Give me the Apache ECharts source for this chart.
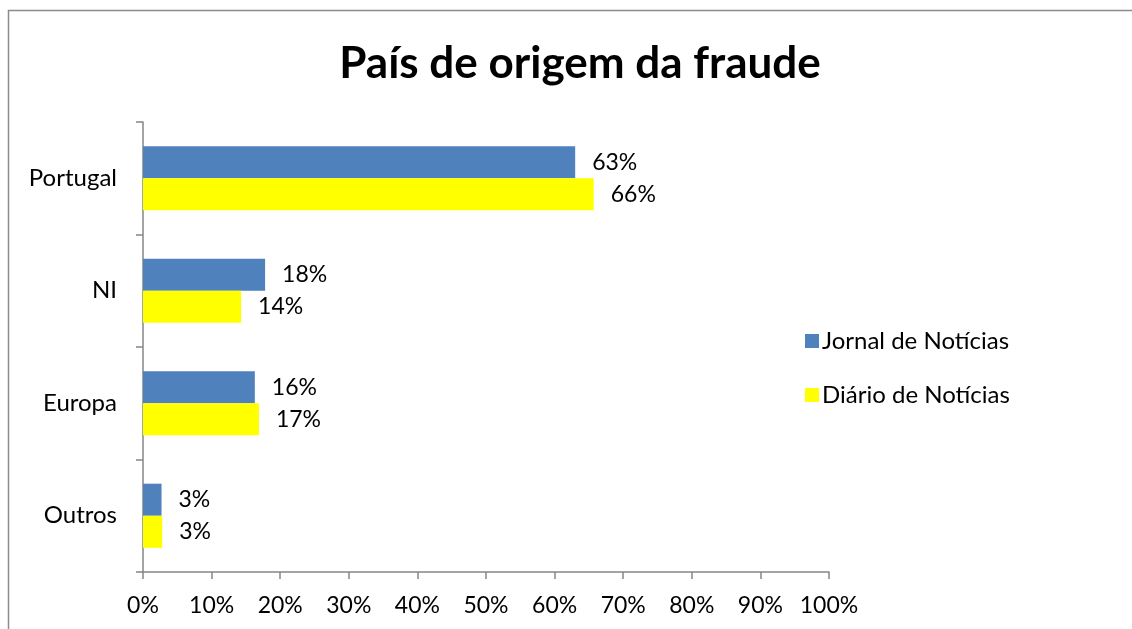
<!DOCTYPE html>
<html>
<head>
<meta charset="utf-8">
<script src="https://cdn.jsdelivr.net/npm/echarts@6/dist/echarts.min.js"></script>
<style>
  html, body { margin: 0; padding: 0; background: #fff; }
  #chart { width: 1132px; height: 629px; }
</style>
</head>
<body>
<div id="chart"></div>
<script>
// data (share of cases)
var categories = ['Portugal', 'NI', 'Europa', 'Outros'];
var jornal = [63, 17.8, 16.3, 2.7];
var diario = [65.7, 14.3, 16.9, 2.8];
var seriesNames = ['Jornal de Notícias', 'Diário de Notícias'];
var ticks = [0, 10, 20, 30, 40, 50, 60, 70, 80, 90, 100];

var font = 'Lato, "Open Sans", sans-serif';
var axisGray = '#868686';

function pctLabel(p) {
    return Math.round(p.value) + '%';
}

var chart = echarts.init(document.getElementById('chart'));
chart.setOption({
    animation: false,
    textStyle: { fontFamily: font },
    title: {
        text: 'País de origem da fraude',
        left: 575,
        top: 37,
        textAlign: 'center',
        textStyle: { fontSize: 44, fontWeight: 'bold', color: '#000', fontFamily: font }
    },
    graphic: [{
        type: 'rect',
        shape: { x: 8.5, y: 10.5, width: 1200, height: 700 },
        style: { fill: 'none', stroke: '#8c8c8c', lineWidth: 1.5 },
        silent: true
    }],
    legend: {
        orient: 'vertical',
        left: 800,
        top: 324,
        itemWidth: 14,
        itemHeight: 14,
        itemGap: 30,
        icon: 'rect',
        textStyle: { fontSize: 24, color: '#000', fontFamily: font, padding: [0, 0, 0, -2] },
        data: seriesNames
    },
    grid: { left: 143, right: 303, top: 122, bottom: 57, containLabel: false },
    xAxis: {
        type: 'value',
        min: ticks[0],
        max: ticks[ticks.length - 1],
        interval: 10,
        axisLine: { show: true, lineStyle: { color: axisGray, width: 1.5 } },
        axisTick: { show: true, length: 7, lineStyle: { color: axisGray, width: 1.5 } },
        splitLine: { show: false },
        axisLabel: { formatter: '{value}%', fontSize: 23, color: '#000', margin: 22, fontFamily: font }
    },
    yAxis: {
        type: 'category',
        inverse: true,
        data: categories,
        axisLine: { show: true, lineStyle: { color: axisGray, width: 1.5 } },
        axisTick: { show: true, length: 7, lineStyle: { color: axisGray, width: 1.5 } },
        axisLabel: { fontSize: 24, color: '#000', margin: 26, fontFamily: font }
    },
    series: [{
        name: seriesNames[0],
        type: 'bar',
        data: jornal,
        barGap: '0%',
        barCategoryGap: '43%',
        itemStyle: { color: '#4f81bd' },
        label: { show: true, position: 'right', distance: 17, formatter: pctLabel, fontSize: 23, color: '#000', fontFamily: font }
    }, {
        name: seriesNames[1],
        type: 'bar',
        data: diario,
        barGap: '0%',
        barCategoryGap: '43%',
        itemStyle: { color: '#ffff00' },
        label: { show: true, position: 'right', distance: 17, formatter: pctLabel, fontSize: 23, color: '#000', fontFamily: font }
    }]
});
</script>
</body>
</html>
